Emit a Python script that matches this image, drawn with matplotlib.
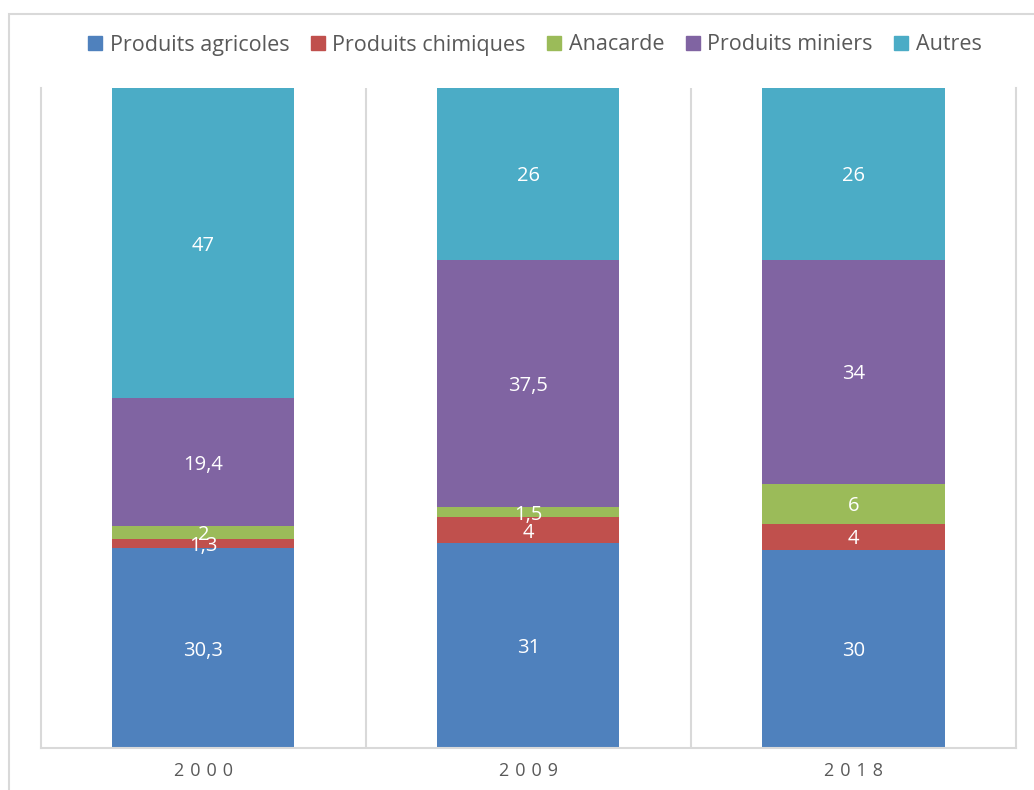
import matplotlib
matplotlib.use("Agg")
import matplotlib.pyplot as plt
from matplotlib.patches import Rectangle, Patch

years = ["2000", "2009", "2018"]
series = ["Produits agricoles", "Produits chimiques", "Anacarde", "Produits miniers", "Autres"]
agricoles = [30.3, 31, 30]
chimiques = [1.3, 4, 4]
anacarde = [2, 1.5, 6]
miniers = [19.4, 37.5, 34]
autres = [47, 26, 26]
colors = ["#4F81BD", "#C0504D", "#9BBB59", "#8064A2", "#4BACC6"]

plt.rcParams['font.family'] = ['Open Sans', 'DejaVu Sans']

fig = plt.figure(figsize=(10.34, 7.9), dpi=100)
ax = fig.add_axes([41/1034, 1-748/790, (1016-41)/1034, (748-88)/790])

data = [agricoles, chimiques, anacarde, miniers, autres]
x = list(range(len(years)))
bottoms = [0]*len(years)
for vals, col, name in zip(data, colors, series):
    ax.bar(x, vals, width=0.56, bottom=bottoms, color=col, label=name, zorder=2)
    for xi, v, b in zip(x, vals, bottoms):
        lab = ("%g" % v).replace(".", ",")
        ax.text(xi, b + v/2, lab, ha="center", va="center_baseline", color="white",
                fontsize=14.5, zorder=3)
    bottoms = [b + v for b, v in zip(bottoms, vals)]

ax.set_xlim(-0.5, len(years)-0.5)
ax.set_ylim(0, 100)
ax.set_yticks([])
ax.set_xticks(x)
ax.set_xticklabels(["\u2004".join(y) for y in years], fontsize=13, color="#595959")
ax.tick_params(axis="x", length=0, pad=10)
ax.spines["top"].set_visible(False)
for s in ["left", "right", "bottom"]:
    ax.spines[s].set_color("#D9D9D9")
    ax.spines[s].set_linewidth(1.5)
for b in [0.5, 1.5]:
    ax.axvline(b, color="#D9D9D9", linewidth=1.5, zorder=1)

handles = [Patch(color=c, label=n) for c, n in zip(colors, series)]
fig.legend(handles=handles, loc="center", bbox_to_anchor=(535/1034, 1-45/790), ncol=5,
           frameon=False, fontsize=15.5, handlelength=0.65, handleheight=0.65,
           handletextpad=0.35, columnspacing=1.0, labelcolor="#595959")

fig.patches.append(Rectangle((9/1034, -0.1), 1.2, 1.1 - 14/790, transform=fig.transFigure,
                             fill=False, edgecolor="#D9D9D9", linewidth=1.5))

fig.savefig("out.png", dpi=100)
